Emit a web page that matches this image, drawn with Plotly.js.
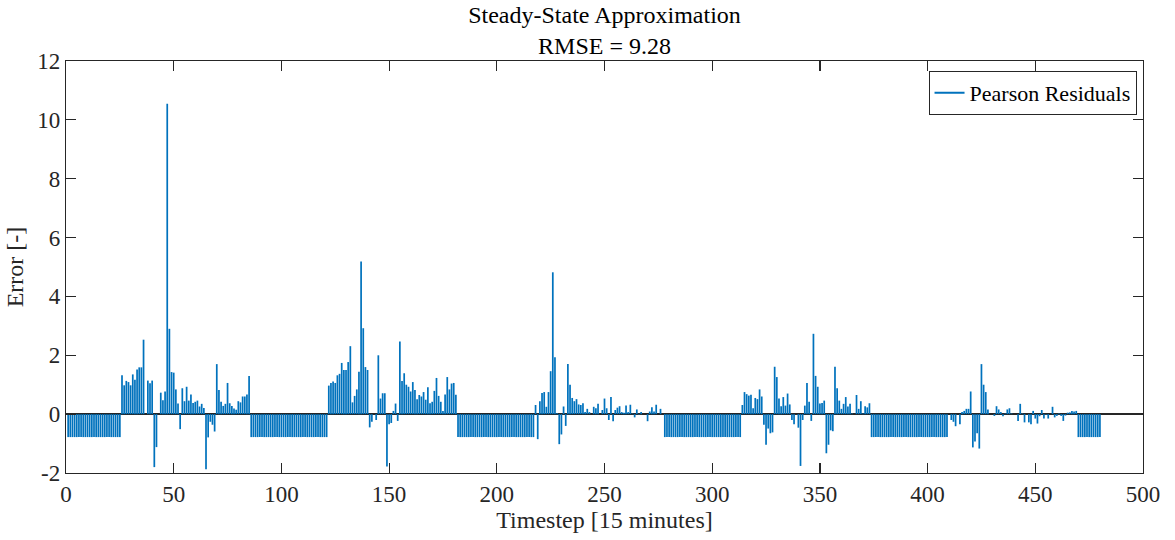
<!DOCTYPE html>
<html>
<head>
<meta charset="utf-8">
<script src="https://cdn.plot.ly/plotly-3.0.1.min.js"></script>
<style>html,body{margin:0;padding:0;background:#fff;}#chart{width:1175px;height:540px;}</style>
</head>
<body>
<div id="chart"></div>
<script>
// Pearson residuals per 15-minute timestep, one array per day (96 steps each)
const day1 = [
 -0.78,-0.78,-0.78,-0.78,-0.78,-0.78,-0.78,-0.78,-0.78,-0.78,-0.78,-0.78,-0.78,-0.78,-0.78,-0.78,-0.78,-0.78,-0.78,-0.78,-0.78,-0.78,-0.78,-0.78,-0.78,
 1.32,0.98,1.13,1.09,0.98,1.35,1.17,1.52,1.59,1.59,2.53,0,1.14,1.05,1.14,-1.8,-1.12,0,0.73,0.47,0.77,10.55,2.9,1.43,1.41,
 0.84,0.36,-0.51,0.88,0.44,0.93,0.46,0.67,0.38,0.42,0.46,0.26,0.35,0.21,-1.87,-0.79,-0.26,-0.36,-0.59,1.7,
 0.82,0.42,0.28,0.35,1.06,0.37,0.28,0.19,0.15,0.44,0.4,0.6,0.6,0.67,1.3,
 -0.78,-0.78,-0.78,-0.78,-0.78,-0.78,-0.78,-0.78,-0.78,-0.78,-0.78
];
const day2 = [
 -0.78,-0.78,-0.78,-0.78,-0.78,-0.78,-0.78,-0.78,-0.78,-0.78,-0.78,-0.78,-0.78,-0.78,-0.78,-0.78,-0.78,-0.78,-0.78,-0.78,-0.78,-0.78,-0.78,-0.78,-0.78,
 0.97,1.06,1.11,1.06,1.32,1.37,1.74,1.5,1.5,1.77,2.31,0.4,0.62,0.84,1.44,5.19,2.92,1.6,1.5,-0.45,
 -0.26,0,-0.2,2.0,0.53,0.71,0.71,-1.78,-0.34,-0.3,0.11,0.36,-0.23,2.47,1.13,1.39,1.0,0.93,0.77,1.09,
 0.82,0.51,0.65,0.6,0.75,0.49,0.91,0.37,0.42,0.79,1.23,0.62,0.42,0.11,0.67,1.26,0.84,1.04,1.06,0.66,
 -0.78,-0.78,-0.78,-0.78,-0.78,-0.78,-0.78,-0.78,-0.78,-0.78,-0.78
];
const day3 = [
 -0.78,-0.78,-0.78,-0.78,-0.78,-0.78,-0.78,-0.78,-0.78,-0.78,-0.78,-0.78,-0.78,-0.78,-0.78,-0.78,-0.78,-0.78,-0.78,-0.78,-0.78,-0.78,-0.78,-0.78,-0.78,
 0.31,-0.85,0.44,0.72,0.75,0.25,0.75,1.46,4.82,1.93,0.03,-1.02,-0.69,0.26,-0.4,1.7,1.0,0.55,0.44,0.51,
 0.33,0.31,0.37,0.07,0.18,0.07,0,0.25,0.2,0.35,0,0.14,0.53,0.2,-0.2,0.58,-0.24,0.14,0.22,0.27,
 0.07,0.05,0.29,0.07,0.32,0.02,-0.11,0.16,-0.02,0.07,0,0,-0.24,0.09,0.23,0.09,0.32,0,0.18,0,
 -0.78,-0.78,-0.78,-0.78,-0.78,-0.78,-0.78,-0.78,-0.78,-0.78,-0.78
];
const day4 = [
 -0.78,-0.78,-0.78,-0.78,-0.78,-0.78,-0.78,-0.78,-0.78,-0.78,-0.78,-0.78,-0.78,-0.78,-0.78,-0.78,-0.78,-0.78,-0.78,-0.78,-0.78,-0.78,-0.78,-0.78,-0.78,
 0.31,0.75,0.68,0.63,0.66,0.2,0.55,0.51,0.84,0.6,-0.36,-1.04,-0.49,-0.65,-0.62,1.61,1.26,0.53,0.27,0.58,
 0.29,0.7,0.33,-0.2,-0.34,0,-0.46,-1.76,-0.2,0.29,1.06,0.42,-0.23,2.73,1.3,0.93,0.36,0.38,0.46,-1.33,
 -1.04,-0.55,-0.58,1.61,0.88,0.46,0.18,0.35,0.58,0.26,0.35,0.02,0,0.65,0.18,0.44,0.02,0.27,0.23,0.37,
 -0.78,-0.78,-0.78,-0.78,-0.78,-0.78,-0.78,-0.78,-0.78,-0.78,-0.78
];
const day5 = [
 -0.78,-0.78,-0.78,-0.78,-0.78,-0.78,-0.78,-0.78,-0.78,-0.78,-0.78,-0.78,-0.78,-0.78,-0.78,-0.78,-0.78,-0.78,-0.78,-0.78,-0.78,-0.78,-0.78,-0.78,-0.78,
 0,-0.2,-0.26,-0.41,0,-0.34,0.07,0.11,0.18,0.18,0.77,-1.13,-0.93,-0.65,-1.17,1.7,1.0,0.75,0.16,0,
 0,-0.06,0.27,0.16,0.07,-0.07,0.02,0.16,0.2,0.02,0,0,-0.23,0.35,0.02,-0.28,0,-0.28,-0.34,0.11,
 -0.15,-0.32,-0.07,0.14,-0.15,-0.02,-0.15,0,0.25,-0.11,-0.06,0.02,-0.06,-0.23,-0.05,0.05,0.06,0.11,0.09,0.11,
 -0.78,-0.78,-0.78,-0.78,-0.78,-0.78,-0.78,-0.78,-0.78,-0.78,-0.78
];
const residuals = [].concat(day1, day2, day3, day4, day5);
const timesteps = residuals.map((_, i) => i + 1);

const xTicks = [0, 50, 100, 150, 200, 250, 300, 350, 400, 450, 500];
const yTicks = [-2, 0, 2, 4, 6, 8, 10, 12];
const seriesName = 'Pearson Residuals';
const titleText = 'Steady-State Approximation<br>RMSE = 9.28';
const xTitle = 'Timestep [15 minutes]';
const yTitle = 'Error [-]';

const barColor = '#0072BD';
const axisColor = '#262626';
const font = 'Liberation Serif, Times New Roman, serif';

const traces = [
  {
    type: 'bar',
    x: timesteps,
    y: residuals,
    marker: {color: barColor, line: {width: 0}},
    showlegend: false,
    hoverinfo: 'x+y'
  },
  {
    type: 'scatter',
    mode: 'lines',
    x: [null],
    y: [null],
    name: seriesName,
    line: {color: barColor, width: 2},
    showlegend: true
  }
];

const axisCommon = {
  showline: true,
  linecolor: axisColor,
  linewidth: 1.2,
  mirror: 'ticks',
  ticks: 'inside',
  ticklen: 10,
  tickwidth: 1.2,
  tickcolor: axisColor,
  showgrid: false,
  tickfont: {family: font, size: 23, color: axisColor}
};

const layout = {
  width: 1175,
  height: 540,
  margin: {l: 66, r: 32, t: 61, b: 67},
  paper_bgcolor: '#ffffff',
  plot_bgcolor: '#ffffff',
  bargap: 0.2,
  font: {family: font, color: '#000'},
  title: {
    text: titleText,
    font: {family: font, size: 24, color: '#000'},
    x: 0.5,
    xref: 'paper',
    xanchor: 'center',
    y: 1,
    yref: 'paper',
    yanchor: 'bottom',
    pad: {b: 38}
  },
  xaxis: Object.assign({}, axisCommon, {
    range: [0, 500],
    tickvals: xTicks,
    ticktext: xTicks.map(String),
    zeroline: false,
    title: {text: xTitle, font: {family: font, size: 24, color: axisColor}, standoff: 2}
  }),
  yaxis: Object.assign({}, axisCommon, {
    range: [-2, 12],
    tickvals: yTicks,
    ticktext: yTicks.map(String),
    zeroline: true,
    zerolinecolor: axisColor,
    zerolinewidth: 1.5,
    title: {text: yTitle, font: {family: font, size: 24, color: axisColor}, standoff: 6}
  }),
  legend: {
    x: 0.994,
    y: 0.976,
    xanchor: 'right',
    yanchor: 'top',
    bgcolor: '#ffffff',
    bordercolor: axisColor,
    borderwidth: 1,
    font: {family: font, size: 22, color: '#000'},
    itemwidth: 30,
    tracegroupgap: 0
  }
};

Plotly.newPlot('chart', traces, layout, {displayModeBar: false, staticPlot: true});
</script>
</body>
</html>
